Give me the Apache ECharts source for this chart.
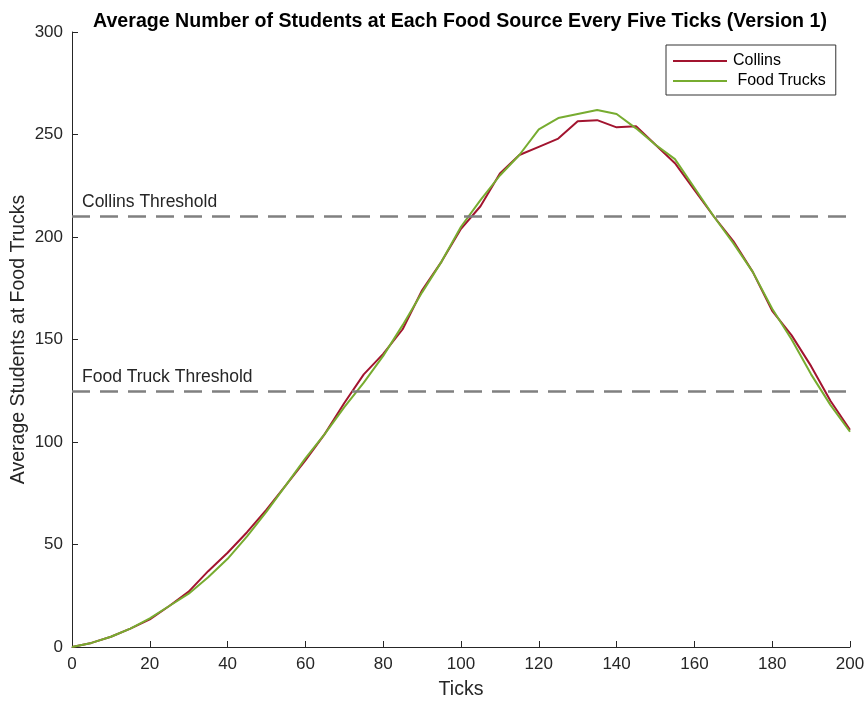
<!DOCTYPE html>
<html><head><meta charset="utf-8">
<script src="https://cdn.jsdelivr.net/npm/echarts@6/dist/echarts.min.js"></script>
<style>html,body{margin:0;padding:0;background:#fff}#c{width:865px;height:702px}</style>
</head><body><div id="c"></div>
<script>
const ticks = [0,5,10,15,20,25,30,35,40,45,50,55,60,65,70,75,80,85,90,95,100,105,110,115,120,125,130,135,140,145,150,155,160,165,170,175,180,185,190,195,200];
const collins = [0,2,5,9,13.5,20,27,37,46,56,67,79,91,104,119,133,143,155,174,188,204,215,231,240,244,248,256.5,257,253.5,254,245,236,223,210,198,183,164,152,137,120,106];
const foodTrucks = [0,2,5,9,14,20,26,34,43,54,66,79,92,104,117,129,142,157,173,188,205,218,230,240,252.5,258,260,262,260,253,245,238,224,210,197,183,165,150,133,118,105];
const thresholds = [210.3, 124.9];
const thresholdLabels = ['Collins Threshold', 'Food Truck Threshold'];
const xTicks = [0,20,40,60,80,100,120,140,160,180,200];
const yTicks = [0,50,100,150,200,250,300];

const FONT = 'Liberation Sans, Arial, Helvetica, sans-serif';
const chart = echarts.init(document.getElementById('c'), null, {renderer:'canvas'});
const axisCol = '#262626';
chart.setOption({
  animation: false,
  backgroundColor: '#fff',
  title: {
    text: 'Average Number of Students at Each Food Source Every Five Ticks (Version 1)',
    left: 455, top: 7, textAlign: 'center',
    textStyle: {fontFamily: FONT, fontSize: 19.6, fontWeight: 'bold', color: '#000'}
  },
  grid: {left: 72, right: 15, top: 32, bottom: 55, containLabel: false, outerBoundsMode: 'none'},
  legend: {
    orient: 'vertical', left: 666, top: 45,
    data: [{name: 'Collins'}, {name: ' Food Trucks'}],
    icon: 'rect', itemWidth: 54, itemHeight: 2, itemGap: 4,
    borderColor: '#333', borderWidth: 1, borderRadius: 0,
    padding: [8, 10, 6, 7], backgroundColor: '#fff',
    textStyle: {fontFamily: FONT, fontSize: 16, color: '#000', padding: [0,0,0,1]}
  },
  xAxis: {
    type: 'value', min: 0, max: 200, interval: 20,
    name: 'Ticks', nameLocation: 'middle', nameGap: 33, nameMoveOverlap: false,
    nameTextStyle: {fontFamily: FONT, fontSize: 19.5, color: axisCol},
    axisLine: {show: true, lineStyle: {color: axisCol, width: 1}},
    axisTick: {show: true, inside: true, length: 6, lineStyle: {color: axisCol}},
    axisLabel: {fontFamily: FONT, fontSize: 17, color: axisCol, margin: 9},
    splitLine: {show: false}
  },
  yAxis: {
    type: 'value', min: 0, max: 300, interval: 50,
    name: 'Average Students at Food Trucks', nameLocation: 'middle', nameGap: 43, nameMoveOverlap: false,
    nameTextStyle: {fontFamily: FONT, fontSize: 19.5, color: axisCol},
    axisLine: {show: true, lineStyle: {color: axisCol, width: 1}},
    axisTick: {show: true, inside: true, length: 6, lineStyle: {color: axisCol}},
    axisLabel: {fontFamily: FONT, fontSize: 17, color: axisCol, margin: 9},
    splitLine: {show: false}
  },
  series: [
    {
      name: 'Collins', type: 'line', symbol: 'none',
      data: ticks.map((t,i) => [t, collins[i]]),
      lineStyle: {color: '#A2142F', width: 2}, itemStyle: {color: '#A2142F'},
      z: 3,
      markLine: {
        silent: true, symbol: 'none', animation: false,
        lineStyle: {color: '#808080', width: 2.5, type: [18, 10]},
        label: {show: true, position: 'insideStartTop', distance: [10, 5],
          fontFamily: FONT, fontSize: 17.5, color: axisCol,
          formatter: p => thresholdLabels[p.dataIndex]},
        data: thresholds.map(v => ({yAxis: v}))
      }
    },
    {
      name: ' Food Trucks', type: 'line', symbol: 'none',
      data: ticks.map((t,i) => [t, foodTrucks[i]]),
      lineStyle: {color: '#77AC30', width: 2}, itemStyle: {color: '#77AC30'},
      z: 4
    }
  ]
});
</script></body></html>
